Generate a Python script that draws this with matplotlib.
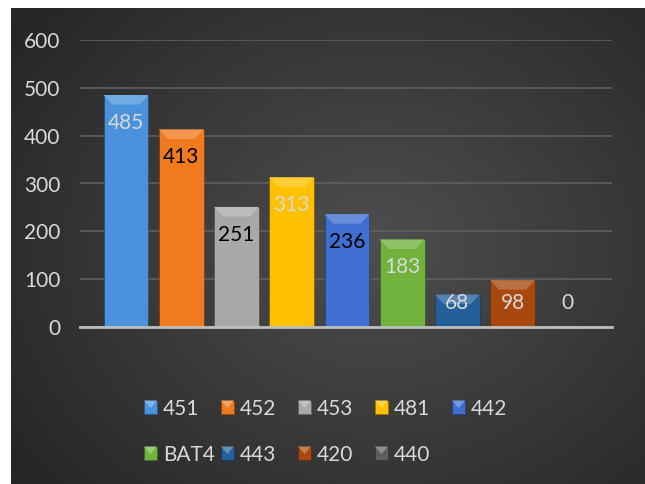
import matplotlib.pyplot as plt
import matplotlib.colors as mcolors
from matplotlib.patches import Polygon, Rectangle
import numpy as np

# chart data
series = ['451', '452', '453', '481', '442', 'BAT4', '443', '420', '440']
values = [485, 413, 251, 313, 236, 183, 68, 98, 0]
colors = ['#4a93dc', '#f07a1e', '#a8a8a8', '#ffc000', '#3f6fd2',
          '#70b23c', '#255f9a', '#a8480e', '#5e5e5e']
label_colors = ['#d9d9d9', 'black', 'black', '#d9d9d9', 'black',
                '#d9d9d9', '#d9d9d9', '#d9d9d9', '#d9d9d9']

plt.rcParams['font.family'] = ['Lato', 'DejaVu Sans']

W, H = 645, 484
fig = plt.figure(figsize=(W / 100, H / 100), dpi=100)


def lighten(c, amt):
    rgb = mcolors.to_rgb(c)
    return tuple(min(1, ch + (1 - ch) * amt) for ch in rgb)


def darken(c, amt):
    rgb = mcolors.to_rgb(c)
    return tuple(ch * (1 - amt) for ch in rgb)


# dark radial gradient background
bg = fig.add_axes([11 / W, 0, (W - 11) / W, 476 / H], zorder=0)
yy, xx = np.mgrid[-1:1:300j, -1:1:400j]
r = np.sqrt((xx - 0.15) ** 2 + (yy * 0.9) ** 2)
grad = np.clip(1 - r / 1.4, 0, 1)
cmap = mcolors.LinearSegmentedColormap.from_list('bg', ['#262626', '#4e4e4e'])
bg.imshow(grad, cmap=cmap, aspect='auto', extent=[0, 1, 0, 1])
bg.axis('off')

ax = fig.add_axes([80 / W, 1 - 327 / H, 532 / W, 287 / H], zorder=1)
ax.set_facecolor('none')

x = np.arange(len(values))
w = 0.81
ax.bar(x, values, width=w, color=colors, zorder=2,
       edgecolor='#00000040', linewidth=0.6)

# bevel on bar tops
for xi, v, c in zip(x, values, colors):
    if v <= 0:
        continue
    dy = min(20, v * 0.4)
    dx = 0.16
    top = Polygon([(xi - w / 2, v), (xi + w / 2, v),
                   (xi + w / 2 - dx, v - dy), (xi - w / 2 + dx, v - dy)],
                  closed=True, facecolor=lighten(c, 0.22), edgecolor='none', zorder=3)
    ax.add_patch(top)

# value labels
for xi, v, lc in zip(x, values, label_colors):
    ax.text(xi, max(v - 58, 50), str(v), ha='center', va='center',
            fontsize=15, color=lc, zorder=4)

ax.set_xlim(-0.833, 8.8)
ax.set_ylim(0, 600)
ax.set_yticks(range(0, 601, 100))
ax.set_xticks([])
ax.yaxis.grid(True, color='#5f5f5f', linewidth=1.2)
ax.set_axisbelow(True)
for s in ['top', 'right', 'left']:
    ax.spines[s].set_visible(False)
ax.spines['bottom'].set_color('#bfbfbf')
ax.spines['bottom'].set_linewidth(2)
ax.spines['bottom'].set_zorder(5)
ax.tick_params(axis='y', length=0, pad=14, labelsize=15, labelcolor='#d9d9d9')

# legend drawn as a fixed grid: 5 per row
for i, (name, c) in enumerate(zip(series, colors)):
    row, col = divmod(i, 5)
    mx = 144 + 77 * col
    my = 407 + 46 * row
    fig.add_artist(Rectangle((mx / W, 1 - (my + 6.5) / H), 13 / W, 13 / H,
                             transform=fig.transFigure, facecolor=c,
                             edgecolor=darken(c, 0.4), linewidth=0.6, zorder=3))
    fig.add_artist(Polygon([(mx / W, 1 - (my - 6.5) / H), ((mx + 13) / W, 1 - (my - 6.5) / H),
                            ((mx + 6.5) / W, 1 - (my + 1) / H)],
                           closed=True, transform=fig.transFigure,
                           facecolor=lighten(c, 0.3), edgecolor='none', zorder=4))
    fig.text((mx + 19) / W, 1 - my / H, name, ha='left', va='center_baseline',
             fontsize=15, color='#d9d9d9', zorder=4)

fig.savefig('out.png', dpi=100, facecolor='white')
